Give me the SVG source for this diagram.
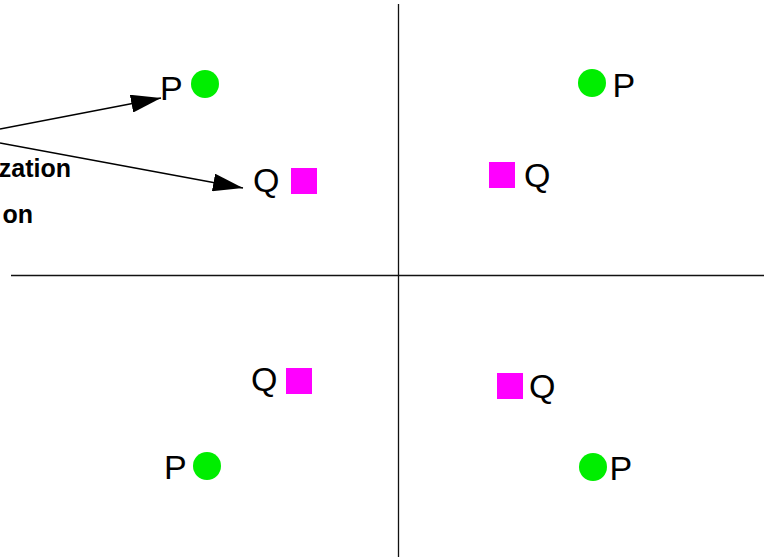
<svg xmlns="http://www.w3.org/2000/svg" width="764" height="557" viewBox="0 0 764 557">
<style>
.lbl{font-family:"Liberation Sans",Arial,sans-serif;font-size:34px;fill:#000}
.cap{font-family:"Liberation Sans",Arial,sans-serif;font-size:25px;font-weight:bold;fill:#000;text-anchor:end}
.pt{fill:#00ee00}
.sq{fill:#ff00ff}
.axis{stroke:#111;stroke-width:1.3;fill:none}
.arr{stroke:#000;stroke-width:1.5;fill:none;marker-end:url(#ah)}
</style>
<defs>
<marker id="ah" markerUnits="userSpaceOnUse" markerWidth="30" markerHeight="18" refX="30" refY="9" orient="auto" viewBox="0 0 30 18">
<path d="M0,0 L30,9 L0,18 z" fill="#000"/>
</marker>
</defs>
<rect width="764" height="557" fill="#fff"/>
<g id="axes">
<line class="axis" x1="11" y1="275.5" x2="764" y2="275.5"/>
<line class="axis" x1="398.5" y1="4" x2="398.5" y2="557"/>
</g>
<g id="labels">
<text class="cap" x="71" y="177">zation</text>
<text class="cap" x="33" y="223">on</text>
</g>
<g id="node-tl-p"><text class="lbl" x="160" y="100">P</text><circle class="pt" cx="205" cy="84" r="14"/></g>
<g id="node-tl-q"><text class="lbl" x="253" y="192">Q</text><rect class="sq" x="291" y="168" width="26" height="26"/></g>
<g id="node-tr-p"><circle class="pt" cx="592" cy="83" r="14"/><text class="lbl" x="612.5" y="97">P</text></g>
<g id="node-tr-q"><rect class="sq" x="489" y="162" width="26" height="26"/><text class="lbl" x="524" y="187">Q</text></g>
<g id="node-bl-q"><text class="lbl" x="251" y="391">Q</text><rect class="sq" x="286" y="368" width="26" height="26"/></g>
<g id="node-bl-p"><text class="lbl" x="164" y="479">P</text><circle class="pt" cx="207" cy="466" r="14"/></g>
<g id="node-br-q"><rect class="sq" x="497" y="373" width="26" height="26"/><text class="lbl" x="529" y="398">Q</text></g>
<g id="node-br-p"><circle class="pt" cx="593" cy="467" r="14"/><text class="lbl" x="609.5" y="480">P</text></g>
<g id="connectors">
<line class="arr" x1="0" y1="129" x2="161" y2="98"/>
<line class="arr" x1="0" y1="143" x2="243" y2="188"/>
</g>
</svg>
